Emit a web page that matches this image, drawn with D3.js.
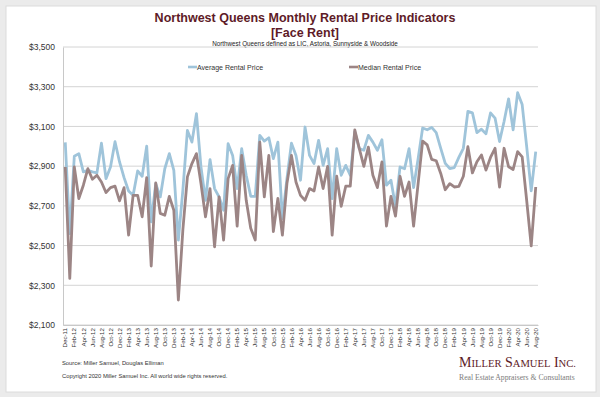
<!DOCTYPE html>
<html>
<head>
<meta charset="utf-8">
<script src="https://cdn.jsdelivr.net/npm/d3@7"></script>
<style>
  body { margin: 0; background: #ebebeb; }
  svg { display: block; font-family: "Liberation Sans", Arial, sans-serif; }
</style>
</head>
<body>
<div id="chart"></div>
<script>
// monthly data, Dec-11 .. Aug-20
var months = d3.timeMonths(new Date(2011, 11, 1), new Date(2020, 8, 1));

var avgRent = [
  3020, 2560, 2950, 2963, 2871, 2879, 2871, 2866, 3016, 2837,
  2896, 3023, 2921, 2842, 2775, 2753, 2876, 2849, 3001, 2620,
  2812, 2745, 2887, 2963, 2879, 2528, 2780, 3080, 3021, 3164,
  2896, 2728, 2933, 2787, 2745, 2678, 3013, 2954, 2787, 2988,
  2854, 2748, 2748, 3055, 3026, 3043, 2938, 3021, 2636, 2837,
  3016, 2954, 2829, 3097, 2954, 2913, 3030, 2904, 2988, 2737,
  2988, 2854, 2904, 2854, 3072, 2988, 2980, 3055, 3021, 2980,
  3033, 2804, 2829, 2695, 2896, 2887, 2988, 2792, 2938, 3092,
  3083, 3095, 3069, 2990, 2914, 2888, 2893, 2944, 2990, 3176,
  3168, 3069, 3086, 3063, 3168, 3142, 3024, 3125, 3239, 3083,
  3270, 3210, 2998, 2775, 2973
];

var medianRent = [
  2896, 2335, 2896, 2737, 2804, 2887, 2834, 2854, 2820, 2767,
  2792, 2799, 2725, 2792, 2553, 2753, 2753, 2645, 2842, 2397,
  2815, 2662, 2653, 2748, 2678, 2226, 2580, 2846, 2913, 2963,
  2812, 2645, 2787, 2494, 2745, 2528, 2837, 2904, 2598, 2954,
  2728, 2587, 2528, 3021, 2745, 2954, 2570, 2737, 2553, 2812,
  2954, 2820, 2753, 2728, 2787, 2775, 2896, 2787, 2899, 2553,
  2849, 2698, 2799, 2799, 3083, 2988, 2899, 2996, 2854, 2792,
  2921, 2598, 2748, 2648, 2849, 2748, 2820, 2598, 2812, 3026,
  3007, 2934, 2927, 2863, 2781, 2812, 2795, 2798, 2849, 2998,
  2866, 2922, 2956, 2880, 2944, 2990, 2795, 2990, 2897, 2883,
  2973, 2947, 2727, 2498, 2795
];

var yTicks = [2100, 2300, 2500, 2700, 2900, 3100, 3300, 3500];

function init() {
    var width = 600, height = 397;
    var plot = { left: 63, right: 538, top: 47, bottom: 325 };
    var fmtMonth = d3.timeFormat("%b-%y");
    var fmtMoney = d3.format("$,");

    var svg = d3.select("#chart")
        .append("svg")
        .attr("width", width)
        .attr("height", height);

    // card background
    svg.append("rect")
        .attr("width", width).attr("height", height)
        .attr("fill", "#ebebeb");
    svg.append("rect")
        .attr("x", 6).attr("y", 6)
        .attr("width", 590).attr("height", 386)
        .attr("fill", "#fff")
        .attr("stroke", "#dcdcdc");

    // titles
    svg.append("text")
        .attr("x", 305).attr("y", 22)
        .attr("text-anchor", "middle")
        .attr("font-size", "12.5px")
        .attr("font-weight", "bold")
        .attr("fill", "#5e1b27")
        .text("Northwest Queens Monthly Rental Price Indicators");
    svg.append("text")
        .attr("x", 305).attr("y", 37)
        .attr("text-anchor", "middle")
        .attr("font-size", "12.5px")
        .attr("font-weight", "bold")
        .attr("fill", "#5e1b27")
        .text("[Face Rent]");
    svg.append("text")
        .attr("x", 305).attr("y", 46)
        .attr("text-anchor", "middle")
        .attr("font-size", "6.3px")
        .attr("fill", "#222")
        .text("Northwest Queens defined as LIC, Astoria, Sunnyside & Woodside");

    var x = d3.scaleBand()
        .domain(months.map(function(d, i) { return i; }))
        .range([plot.left, plot.right]);
    var xc = function(i) { return x(i) + x.bandwidth() / 2; };

    var y = d3.scaleLinear()
        .domain([2100, 3500])
        .range([plot.bottom, plot.top]);

    // gridlines
    svg.append("g")
        .selectAll("line")
        .data(yTicks)
        .enter()
        .append("line")
        .attr("x1", plot.left).attr("x2", plot.right)
        .attr("y1", function(d) { return y(d); })
        .attr("y2", function(d) { return y(d); })
        .attr("stroke", "#d4d4d4")
        .attr("stroke-width", 1);

    var leftAxis = d3.axisLeft(y)
        .tickValues(yTicks)
        .tickFormat(fmtMoney)
        .tickSize(0)
        .tickPadding(8);
    var gy = svg.append("g")
        .attr("transform", "translate(" + plot.left + ",0)")
        .call(leftAxis);
    gy.select(".domain").attr("stroke", "#c8c8c8");
    gy.selectAll("text")
        .attr("font-size", "8.5px")
        .attr("fill", "#333");

    var botAxis = d3.axisBottom(x)
        .tickValues(months.map(function(d, i) { return i; }).filter(function(i) { return i % 2 === 0; }))
        .tickFormat(function(i) { return fmtMonth(months[i]); })
        .tickSize(0);
    var gx = svg.append("g")
        .attr("transform", "translate(0," + plot.bottom + ")")
        .call(botAxis);
    gx.select(".domain").attr("stroke", "#c8c8c8");
    gx.selectAll("text")
        .attr("font-size", "6.2px")
        .attr("fill", "#333")
        .attr("text-anchor", "end")
        .attr("transform", "rotate(-90)")
        .attr("x", -3)
        .attr("y", 0)
        .attr("dy", "0.35em");

    // lines
    var series = [
        { name: "Average Rental Price", values: avgRent, color: "#9fc4da", lx: 188 },
        { name: "Median Rental Price", values: medianRent, color: "#9c8585", lx: 349 }
    ];

    series.forEach(function(s) {
        var line = d3.line()
            .x(function(d, i) { return xc(i); })
            .y(function(d) { return y(d); });
        svg.append("path")
            .datum(s.values)
            .attr("d", line)
            .attr("fill", "none")
            .attr("stroke", s.color)
            .attr("stroke-width", 2.8)
            .attr("stroke-linejoin", "round");

        // legend
        svg.append("line")
            .attr("x1", s.lx).attr("x2", s.lx + 9)
            .attr("y1", 67).attr("y2", 67)
            .attr("stroke", s.color)
            .attr("stroke-width", 2.6);
        svg.append("text")
            .attr("x", s.lx + 9).attr("y", 69.5)
            .attr("font-size", "7px")
            .attr("fill", "#333")
            .text(s.name);
    });

    // footer
    svg.append("text")
        .attr("x", 62).attr("y", 365)
        .attr("font-size", "5.8px")
        .attr("fill", "#333")
        .text("Source: Miller Samuel, Douglas Elliman");
    svg.append("text")
        .attr("x", 62).attr("y", 378)
        .attr("font-size", "5.8px")
        .attr("fill", "#333")
        .text("Copyright 2020 Miller Samuel Inc.  All world wide rights reserved.");

    // logo
    var logo = svg.append("text")
        .attr("x", 459).attr("y", 367)
        .attr("font-family", "'Liberation Serif', 'DejaVu Serif', serif")
        .attr("fill", "#5e1b27");
    ["Miller", "Samuel", "Inc."].forEach(function(w, k) {
        logo.append("tspan")
            .attr("font-size", "14px")
            .text((k > 0 ? " " : "") + w[0]);
        logo.append("tspan")
            .attr("font-size", "10.6px")
            .text(w.slice(1).toUpperCase());
    });
    svg.append("text")
        .attr("x", 459).attr("y", 380)
        .attr("font-family", "'Liberation Serif', 'DejaVu Serif', serif")
        .attr("font-size", "7.7px")
        .attr("fill", "#7a7a7a")
        .text("Real Estate Appraisers & Consultants");
}
window.addEventListener('load', init, false);
</script>
</body>
</html>
